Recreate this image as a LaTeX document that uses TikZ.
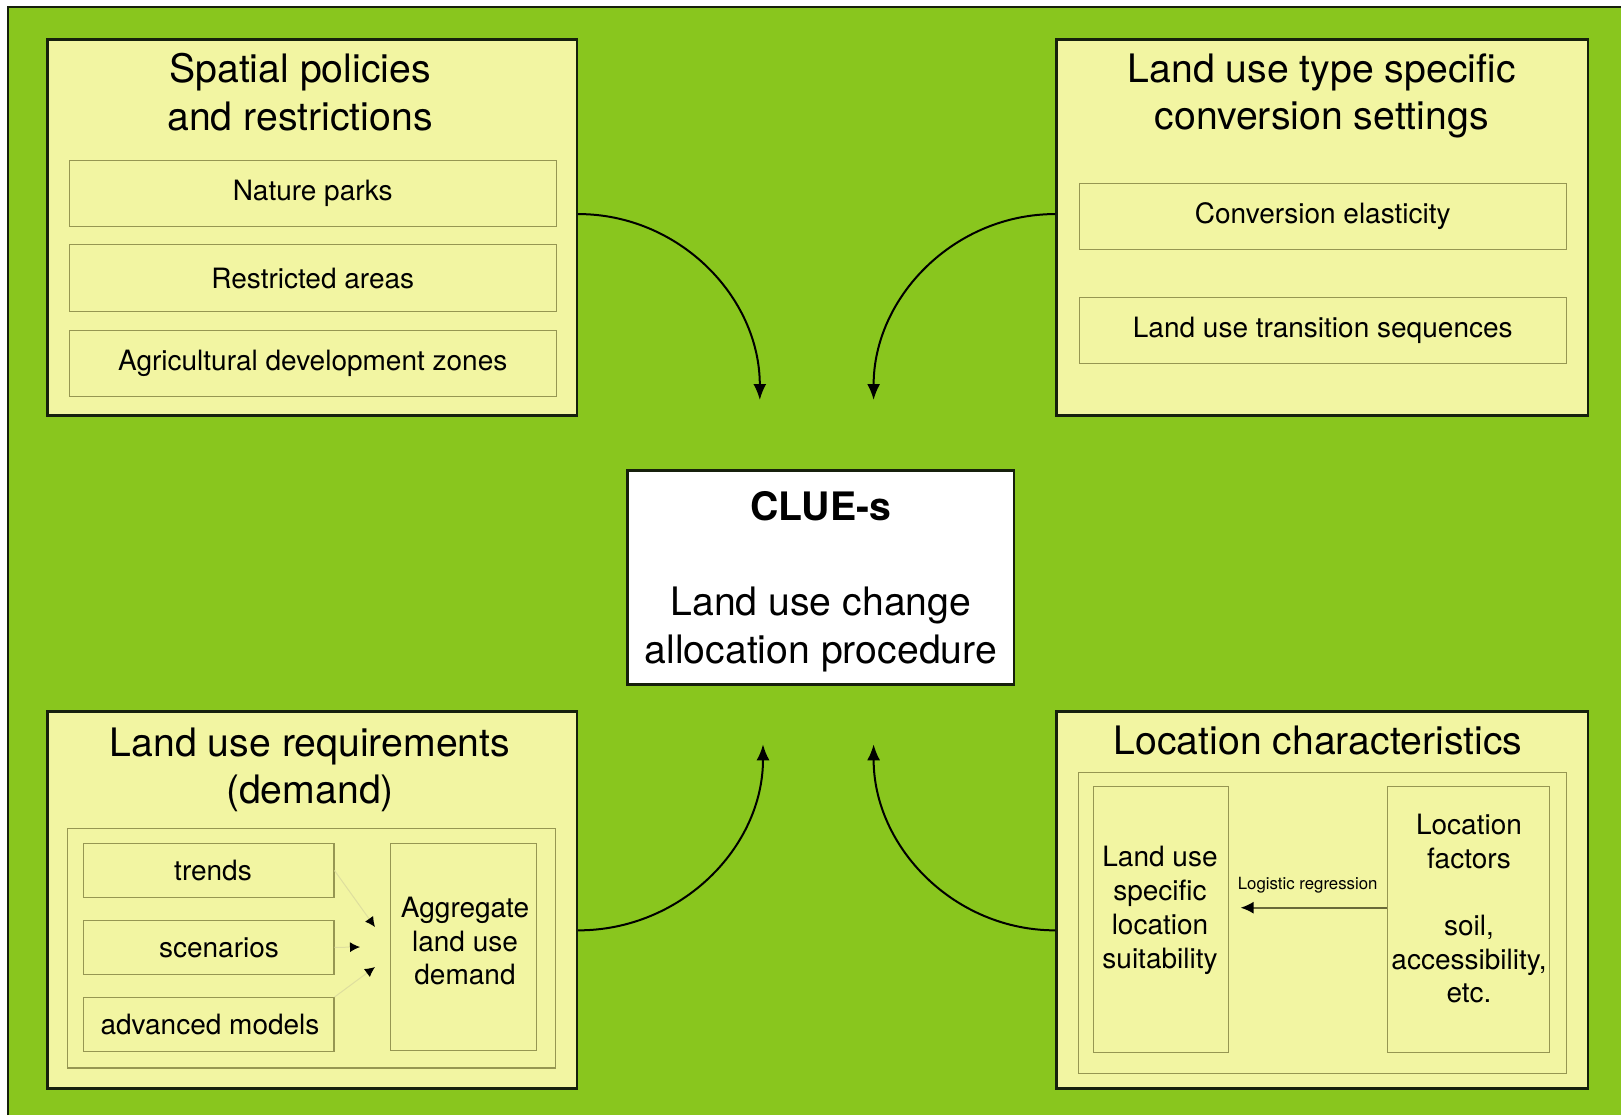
\documentclass[tikz,border=0pt]{standalone}
\usepackage{fontspec}
\setmainfont{TeX Gyre Heros}
\usetikzlibrary{arrows.meta,fit,positioning}

\definecolor{bggreen}{RGB}{137,198,30}
\definecolor{boxfill}{RGB}{242,245,162}
\definecolor{subline}{RGB}{150,150,82}
\definecolor{frameline}{RGB}{22,32,12}
\definecolor{faintline}{RGB}{222,222,158}

\tikzset{
  panel/.style={draw=frameline, line width=1.2pt, fill=boxfill, inner sep=0pt},
  subbox/.style={draw=subline, line width=0.6pt, inner sep=0pt},
  heading/.style={font=\fontsize{19.6}{23.8}\selectfont, align=center},
  itemtext/.style={font=\fontsize{14}{16.8}\selectfont, align=center},
  flow/.style={line width=1pt, -{Latex[length=8pt,width=6.5pt]}},
}

\begin{document}
\begin{tikzpicture}[x=0.5pt,y=-0.5pt]
  \useasboundingbox (0,0) rectangle (1621,1115);
  % background
  \fill[white] (0,0) rectangle (1621,1115);
  \fill[bggreen] (8,7) rectangle (1621,1115);
  \draw[frameline, line width=1pt] (8,1115) -- (8,7) -- (1621,7);

  % spatial policies
  \node[panel, fit={(47.6,39.3) (576.9,415.6)}] (policy) {};
  \node[heading] (policytitle) at (300,92) {Spatial policies\\and restrictions};
  \node[subbox, itemtext, minimum width=243.45pt, minimum height=33.3pt] (parks) at (312.75,193.5) {Nature parks};
  \node[subbox, itemtext, minimum width=243.45pt, minimum height=33.3pt] (restricted) at (312.75,278.1) {Restricted areas};
  \node[subbox, itemtext, minimum width=243.45pt, minimum height=33.3pt] (agri) at (312.75,363.5) {Agricultural development zones};

  % conversion settings
  \node[panel, fit={(1056.5,39.3) (1588,415.6)}] (conversion) {};
  \node[heading] (conversiontitle) at (1321.7,96) {Land use type specific\\conversion settings};
  \node[subbox, itemtext, minimum width=243.45pt, minimum height=33.3pt] (elasticity) at (1322.75,216.5) {Conversion elasticity};
  \node[subbox, itemtext, minimum width=243.45pt, minimum height=33.3pt] (sequences) at (1322.75,330.5) {Land use transition sequences};

  % model
  \node[draw=frameline, line width=1.2pt, fill=white, minimum width=193.35pt, minimum height=107pt] (clue) at (820.85,577.4) {};
  \node[font=\fontsize{19.6}{23.8}\selectfont, align=center] (cluetext) at (820.85,581.5)
        {\textbf{CLUE-s}\\[23.8pt]Land use change\\allocation procedure};

  % demand
  \node[panel, fit={(47.6,711.3) (576.9,1088.6)}] (demand) {};
  \node[heading] (demandtitle) at (310,770) {Land use requirements\\(demand)};
  \node[subbox, fit={(67.2,828.1) (555.2,1068)}] (demandframe) {};
  \node[subbox, minimum width=125.1pt, minimum height=26.85pt] (trends) at (208.8,870.5) {};
  \node[subbox, minimum width=125.1pt, minimum height=26.85pt] (scenarios) at (208.8,947.4) {};
  \node[subbox, minimum width=125.1pt, minimum height=26.85pt] (models) at (208.8,1024.5) {};
  \node[itemtext] at (213,870.5) {trends};
  \node[itemtext] at (219,947.4) {scenarios};
  \node[itemtext] at (210,1024.5) {advanced models};
  \node[subbox, minimum width=72.85pt, minimum height=103.35pt] (aggregate) at (463.65,947) {};
  \node[itemtext] (aggregatetext) at (465,941) {Aggregate\\land use\\demand};
  \coordinate (tipT) at (375,927);
  \coordinate (tipS) at (360,947);
  \coordinate (tipM) at (375,967);
  \draw[faintline, line width=0.5pt, -{Latex[length=5pt,width=5pt,color=black]}] (trends.east) -- (tipT);
  \draw[faintline, line width=0.5pt, -{Latex[length=5pt,width=5pt,color=black]}] (scenarios.east) -- (tipS);
  \draw[faintline, line width=0.5pt, -{Latex[length=5pt,width=5pt,color=black]}] (models.north east) -- (tipM);

  % location characteristics
  \node[panel, fit={(1056.5,711.3) (1588,1088.6)}] (location) {};
  \node[heading] (locationtitle) at (1318,740) {Location characteristics};
  \node[subbox, fit={(1078.3,772.2) (1566.2,1073.1)}] (locationframe) {};
  \node[subbox, minimum width=67.2pt, minimum height=132.85pt] (suitability) at (1161,919.55) {};
  \node[itemtext, font=\fontsize{14}{17}\selectfont] (suitabilitytext) at (1160,910) {Land use\\specific\\location\\suitability};
  \node[subbox, minimum width=81.15pt, minimum height=132.85pt] (factors) at (1468.55,919.55) {};
  \node[itemtext] (factorstext) at (1469,908.7) {Location\\factors\\[16.8pt]soil,\\accessibility,\\etc.};
  \coordinate (regtip) at (1240.6,907.7);
  \draw[draw=subline!70!black, line width=0.8pt, -{Latex[length=6.5pt,width=6pt,color=black]}] (factors.west |- regtip) -- (regtip)
    node[midway, above=3.5pt, xshift=-3pt, font=\fontsize{8.4}{10}\selectfont, text=black] {Logistic regression};

  % links to the model
  \coordinate (inA) at (759.8,400);
  \coordinate (inB) at (873.6,400);
  \coordinate (inC) at (763,744.3);
  \coordinate (inD) at (873.6,744.3);
  \draw[flow] ([yshift=6.7pt]policy.east) .. controls +(101,0) and +(0,-103) .. (inA);
  \draw[flow] ([yshift=6.7pt]conversion.west) .. controls +(-101,0) and +(0,-103) .. (inB);
  \draw[flow] ([yshift=-15.2pt]demand.east) .. controls +(103,0) and +(0,103) .. (inC);
  \draw[flow] ([yshift=-15.2pt]location.west) .. controls +(-101,0) and +(0,103) .. (inD);
\end{tikzpicture}
\end{document}
